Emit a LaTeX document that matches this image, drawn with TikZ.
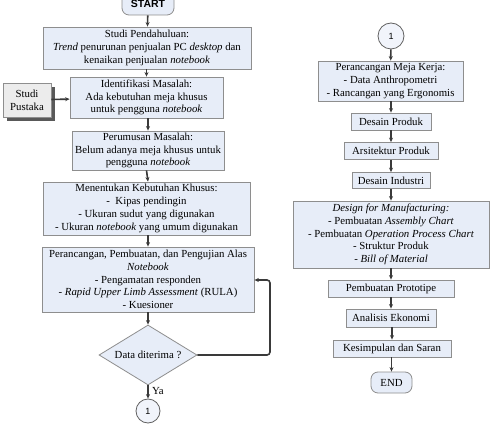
\documentclass[tikz,border=0pt]{standalone}
\usepackage{fontspec}
\setmainfont{Liberation Serif}
\newfontfamily\sansb{Liberation Sans}
\usetikzlibrary{shapes.geometric,arrows.meta}
\definecolor{boxfill}{HTML}{E7EDF8}
\definecolor{boxline}{HTML}{8E8E8E}
\definecolor{arr}{HTML}{3A3A3A}
\definecolor{grayfill}{HTML}{ECECEC}
\tikzset{
  x=1pt,y=-1pt,
  box/.style={draw=boxline,fill=boxfill,line width=0.8pt,inner sep=0pt,align=center,font=\fontsize{10.8}{12.8}\selectfont},
  term/.style={box,rounded corners=7pt},
  conn/.style={draw=arr!80,fill=boxfill!60,line width=0.8pt,circle,inner sep=0pt,font=\sansb\fontsize{9}{10}\selectfont},
  flow/.style={draw=arr,line width=1.6pt,-{Stealth[length=4.5pt,width=4pt]}},
}
\begin{document}
\begin{tikzpicture}
\useasboundingbox[fill=white] (0,0) rectangle (495,427);
% left column
\node[term,minimum width=52,minimum height=22,font=\sansb\bfseries\fontsize{10.5}{12}\selectfont] (start) at (148,4) {START};
\node[box,minimum width=208,minimum height=42] (sp) at (147,48) {Studi Pendahuluan:\\\textit{Trend} penurunan penjualan PC \textit{desktop} dan\\kenaikan penjualan \textit{notebook}};
\node[box,minimum width=153,minimum height=41] (im) at (146.5,97.5) {Identifikasi Masalah:\\Ada kebutuhan meja khusus\\untuk pengguna \textit{notebook}};
\fill[black!65] (7,87) rectangle (55,121);
\node[box,fill=grayfill,minimum width=48,minimum height=34] (pust) at (27,100) {Studi\\Pustaka};
\node[box,minimum width=152,minimum height=39] (pm) at (148,150.5) {Perumusan Masalah:\\Belum adanya meja khusus untuk\\pengguna \textit{notebook}};
\node[box,minimum width=207,minimum height=53] (mk) at (146.5,208.5) {Menentukan Kebutuhan Khusus:\\-\ \ Kipas pendingin\\- Ukuran sudut yang digunakan\\- Ukuran \textit{notebook} yang umum digunakan};
\node[box,minimum width=212,minimum height=65] (pr) at (148,279.5) {Perancangan, Pembuatan, dan Pengujian Alas\\\textit{Notebook}\\- Pengamatan responden\\- \textit{Rapid Upper Limb Assessment} (RULA)\\- Kuesioner};
\node[box,shape=diamond,aspect=1.63,minimum width=98,minimum height=60] (dia) at (148,355) {Data diterima ?};
\node[conn,minimum size=24] (c1) at (148,411) {1};
% right column
\node[conn,minimum size=26] (c2) at (391,36) {1};
\node[box,minimum width=145,minimum height=40] (mj) at (390.5,81) {Perancangan Meja Kerja:\\- Data Anthropometri\\- Rancangan yang Ergonomis};
\node[box,minimum width=80,minimum height=17] (dp) at (391,121.5) {Desain Produk};
\node[box,minimum width=94,minimum height=17] (ap) at (391,151) {Arsitektur Produk};
\node[box,minimum width=78,minimum height=16] (di) at (391,180.5) {Desain Industri};
\node[box,minimum width=196,minimum height=67] (dfm) at (391,234.5) {\textit{Design for Manufacturing:}\\- Pembuatan \textit{Assembly Chart}\\- Pembuatan \textit{Operation Process Chart}\\- Struktur Produk\\- \textit{Bill of Material}};
\node[box,minimum width=126,minimum height=17] (pp) at (391,288.5) {Pembuatan Prototipe};
\node[box,minimum width=90,minimum height=18] (ae) at (391,318) {Analisis Ekonomi};
\node[box,minimum width=118,minimum height=17] (ks) at (392,348.5) {Kesimpulan dan Saran};
\node[term,minimum width=41,minimum height=21] (end) at (391.5,382.5) {END};
% connectors
\draw[flow] (start) -- (sp);
\draw[flow] (sp.south -| im) -- (im);
\draw[flow] (pust) -- (im);
\draw[flow] (im.south -| pm) -- (pm);
\draw[flow] (pm.south -| mk.center) ++(0,0) -- (pm.south |- mk.north);
\draw[flow] (mk.south -| pr) -- (pr);
\draw[flow] (pr) -- (dia);
\draw[flow] (dia) -- node[right,font=\fontsize{10.8}{12}\selectfont,pos=0.45]{Ya} (c1);
\coordinate (lr) at (270,355);
\draw[flow,rounded corners=3pt] (dia.east) -- (lr) -- (270,280) -- (pr.east |- 0,280);
\draw[flow] (c2) -- (mj);
\draw[flow] (mj.south -| dp) -- (dp);
\draw[flow] (dp) -- (ap);
\draw[flow] (ap) -- (di);
\draw[flow] (di) -- (dfm);
\draw[flow] (dfm) -- (pp);
\draw[flow] (pp) -- (ae);
\draw[flow] (ae.south -| ks.north) -- (ks);
\draw[flow] (ks.south -| end) -- (end);
\end{tikzpicture}
\end{document}
